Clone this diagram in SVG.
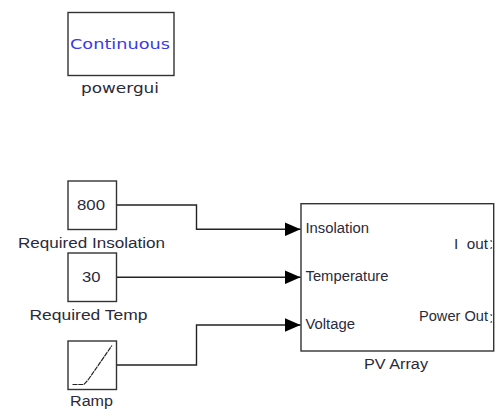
<svg xmlns="http://www.w3.org/2000/svg" width="495" height="409" viewBox="0 0 495 409">
<style>
.b{fill:#fff;stroke:#333;stroke-width:1.4}
.t{font-family:"Liberation Sans",Arial,sans-serif;font-size:14px;fill:#2a2a3a}
.v{font-family:"DejaVu Sans",sans-serif;font-size:13.500px;fill:#2a2a3a}
.c{fill:none;stroke:#222;stroke-width:1.4}
.k{fill:none;stroke:#333;stroke-width:1.200}
</style>
<defs><marker id="a" markerUnits="userSpaceOnUse" markerWidth="17" markerHeight="14" refX="16" refY="7" orient="auto"><path d="M0 0L16 7L0 14Z" fill="#000"/></marker></defs>
<rect width="495" height="409" fill="#fff"/>
<g id="powergui"><rect class="b" x="68" y="12.500" width="106" height="63"/><text x="70" y="49" class="v" style="fill:#3a3ae8" textLength="100" lengthAdjust="spacingAndGlyphs">Continuous</text><text x="81" y="93" class="v" textLength="78" lengthAdjust="spacingAndGlyphs">powergui</text></g>
<g id="insolation"><rect class="b" x="68" y="181" width="48.500" height="48.500"/><text x="77" y="209.500" class="t" style="font-size:15px" textLength="28" lengthAdjust="spacingAndGlyphs">800</text><text x="18" y="247.500" class="t" textLength="147" lengthAdjust="spacingAndGlyphs">Required Insolation</text></g>
<g id="temp"><rect class="b" x="68" y="253" width="48.500" height="48.500"/><text x="82" y="281.500" class="t" style="font-size:15px" textLength="18.500" lengthAdjust="spacingAndGlyphs">30</text><text x="29.500" y="319.500" class="t" textLength="118" lengthAdjust="spacingAndGlyphs">Required Temp</text></g>
<g id="ramp"><rect class="b" x="68" y="341" width="48.500" height="48.500"/><path d="M72.500 384.500H84L88 380L112 345.500" fill="none" stroke="#222" stroke-width="1.200" stroke-dasharray="5 0.800"/><text x="70" y="405.500" class="t" textLength="43" lengthAdjust="spacingAndGlyphs">Ramp</text></g>
<g id="pv"><rect class="b" x="301" y="203.700" width="192.700" height="147.300"/><text x="305.500" y="232.500" class="t" textLength="63.500" lengthAdjust="spacingAndGlyphs">Insolation</text><text x="305.500" y="281" class="t" textLength="83" lengthAdjust="spacingAndGlyphs">Temperature</text><text x="305.500" y="329" class="t" textLength="49.500" lengthAdjust="spacingAndGlyphs">Voltage</text><text x="454" y="249" class="t" textLength="34" lengthAdjust="spacingAndGlyphs" xml:space="preserve">I  out</text><text x="419" y="321" class="t" textLength="69" lengthAdjust="spacingAndGlyphs">Power Out</text><path class="k" d="M490.500 240.500L492 241.500M490.500 248.500L492 247.500M490.500 314.500L492 315.500M490.500 322.500L492 321.500"/><text x="364" y="369" class="t" textLength="64" lengthAdjust="spacingAndGlyphs">PV Array</text></g>
<g id="connectors">
<path class="c" marker-end="url(#a)" d="M117 205H196.500V229.300H300.500"/>
<path class="c" marker-end="url(#a)" d="M117 277.300H300.500"/>
<path class="c" marker-end="url(#a)" d="M117 365H196.500V325H300.500"/>
</g>
</svg>
